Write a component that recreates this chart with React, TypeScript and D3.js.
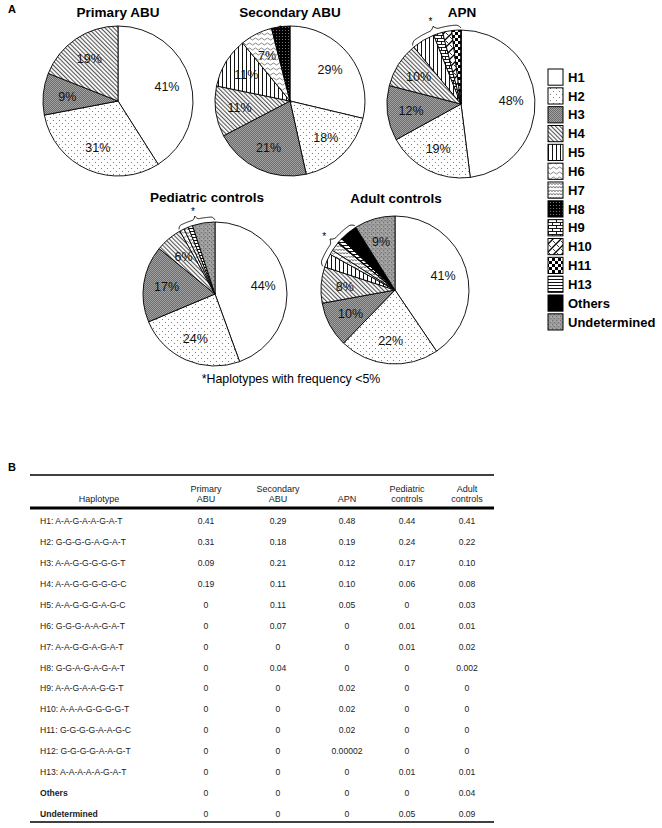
import React from "react";
import * as d3 from "d3";

const haplotypes = ["H1", "H2", "H3", "H4", "H5", "H6", "H7", "H8", "H9", "H10", "H11", "H12", "H13", "Others", "Undetermined"];
const sequences = ["A-A-G-A-A-G-A-T", "G-G-G-G-A-G-A-T", "A-A-G-G-G-G-G-T", "A-A-G-G-G-G-G-C", "A-A-G-G-G-A-G-C", "G-G-G-A-A-G-A-T", "A-A-G-G-A-G-A-T", "G-G-A-G-A-G-A-T", "A-A-G-A-A-G-G-T", "A-A-A-G-G-G-G-T", "G-G-G-G-A-A-G-C", "G-G-G-G-A-A-G-T", "A-A-A-A-A-G-A-T", "", ""];

const primaryABU = [0.41, 0.31, 0.09, 0.19, 0, 0, 0, 0, 0, 0, 0, 0, 0, 0, 0];
const secondaryABU = [0.29, 0.18, 0.21, 0.11, 0.11, 0.07, 0, 0.04, 0, 0, 0, 0, 0, 0, 0];
const apn = [0.48, 0.19, 0.12, 0.10, 0.05, 0, 0, 0, 0.02, 0.02, 0.02, 0.00002, 0, 0, 0];
const pediatricControls = [0.44, 0.24, 0.17, 0.06, 0, 0.01, 0.01, 0, 0, 0, 0, 0, 0.01, 0, 0.05];
const adultControls = [0.41, 0.22, 0.10, 0.08, 0.03, 0.01, 0.02, 0.002, 0, 0, 0, 0, 0.01, 0.04, 0.09];

const groupNames = ["Primary ABU", "Secondary ABU", "APN", "Pediatric controls", "Adult controls"];
const groupHeaders = [["Primary", "ABU"], ["Secondary", "ABU"], ["APN"], ["Pediatric", "controls"], ["Adult", "controls"]];
const legendKeys = ["H1", "H2", "H3", "H4", "H5", "H6", "H7", "H8", "H9", "H10", "H11", "H13", "Others", "Undetermined"];
const footnote = "*Haplotypes with frequency <5%";

const allValues = [primaryABU, secondaryABU, apn, pediatricControls, adultControls];

const pieLayout = [
  { cx: 118, cy: 101, r: 75, tx: 118, ty: 17, braceFrom: null, braceTo: null, star: null },
  { cx: 290, cy: 101, r: 75, tx: 290, ty: 17, braceFrom: null, braceTo: null, star: "H8" },
  { cx: 461, cy: 104, r: 74, tx: 462, ty: 17, braceFrom: "H5", braceTo: "H12", star: null },
  { cx: 215, cy: 294, r: 72, tx: 207, ty: 202, braceFrom: "H6", braceTo: "Undetermined", star: null },
  { cx: 395, cy: 290, r: 74, tx: 396, ty: 203, braceFrom: "H5", braceTo: "Others", star: null },
];

const fillFor = (k: string) => {
  if (k === "H1" || k === "H12") return "#ffffff";
  if (k === "Others") return "#000000";
  return `url(#pat-${k})`;
};

function Patterns() {
  const u = { patternUnits: "userSpaceOnUse" as const };
  return (
    <defs>
      <pattern id="pat-H2" {...u} width={6} height={6}>
        <rect width={6} height={6} fill="#fff" />
        <circle cx={1.5} cy={1.5} r={0.55} fill="#666" />
        <circle cx={4.5} cy={4.5} r={0.55} fill="#666" />
      </pattern>
      <pattern id="pat-H3" {...u} width={2} height={2}>
        <rect width={2} height={2} fill="#a2a2a2" />
        <rect width={1} height={1} fill="#6c6c6c" />
        <rect x={1} y={1} width={1} height={1} fill="#6c6c6c" />
      </pattern>
      <pattern id="pat-H4" {...u} width={3} height={3} patternTransform="rotate(-45)">
        <rect width={3} height={3} fill="#fff" />
        <rect width={1.1} height={3} fill="#555" />
      </pattern>
      <pattern id="pat-H5" {...u} width={4} height={4}>
        <rect width={4} height={4} fill="#fff" />
        <rect width={1} height={4} fill="#111" />
      </pattern>
      <pattern id="pat-H6" {...u} width={6} height={5}>
        <rect width={6} height={5} fill="#fff" />
        <path d="M0,3 Q1.5,1 3,3 T6,3" fill="none" stroke="#555" strokeWidth={0.7} />
      </pattern>
      <pattern id="pat-H7" {...u} width={6} height={3.5}>
        <rect width={6} height={3.5} fill="#fff" />
        <path d="M0,2.6 L1.5,0.9 L3,2.6 L4.5,0.9 L6,2.6" fill="none" stroke="#444" strokeWidth={0.8} />
      </pattern>
      <pattern id="pat-H8" {...u} width={3} height={3}>
        <rect width={3} height={3} fill="#000" />
        <circle cx={1.5} cy={1.5} r={0.55} fill="#888" />
      </pattern>
      <pattern id="pat-H9" {...u} width={8} height={6}>
        <rect width={8} height={6} fill="#fff" />
        <path d="M0,0.5 H8 M0,3.5 H8 M0.5,0.5 V3.5 M4.5,3.5 V6" fill="none" stroke="#000" strokeWidth={0.9} />
      </pattern>
      <pattern id="pat-H10" {...u} width={8} height={8}>
        <rect width={8} height={8} fill="#fff" />
        <path d="M0,8 L8,0 M-1,1 L1,-1 M7,9 L9,7" fill="none" stroke="#000" strokeWidth={1.3} />
        <path d="M1,1 L3.5,3.5 M4.5,4.5 L7,7" fill="none" stroke="#000" strokeWidth={0.8} />
      </pattern>
      <pattern id="pat-H11" {...u} width={6} height={6}>
        <rect width={6} height={6} fill="#fff" />
        <rect width={3} height={3} fill="#000" />
        <rect x={3} y={3} width={3} height={3} fill="#000" />
      </pattern>
      <pattern id="pat-H13" {...u} width={3} height={3}>
        <rect width={3} height={3} fill="#fff" />
        <rect width={3} height={1} fill="#111" />
      </pattern>
      <pattern id="pat-Undetermined" {...u} width={4} height={4}>
        <rect width={4} height={4} fill="#9a9a9a" />
        <rect width={1} height={1} fill="#6e6e6e" />
        <rect x={2} y={2} width={1} height={1} fill="#6e6e6e" />
        <circle cx={3} cy={1} r={0.6} fill="#d8d8d8" />
      </pattern>
    </defs>
  );
}

function bracePath(cx: number, cy: number, r: number, a0: number, a1: number) {
  const n = 80;
  const pts: [number, number][] = [];
  for (let i = 0; i <= n; i++) {
    const t = i / n;
    const uu = t <= 0.5 ? t : 1 - t;
    const e = Math.min(1, uu / 0.1);
    const rise = 1 - (1 - e) * (1 - e);
    const tp = Math.max(0, 1 - (0.5 - uu) / 0.09);
    const d = 2 + 3 * rise + 3.5 * tp * tp;
    const a = a0 + t * (a1 - a0);
    pts.push([cx + (r + d) * Math.sin(a), cy - (r + d) * Math.cos(a)]);
  }
  return d3.line()(pts) || "";
}

function PieChart({ idx }: { idx: number }) {
  const L = pieLayout[idx];
  const vals = allValues[idx];
  const data = haplotypes.map((k, i) => ({ key: k, value: vals[i] })).filter((d) => d.value > 0);
  const arcs = d3.pie<any>().sort(null).value((d: any) => d.value)(data);
  const arcGen = d3.arc<any>().innerRadius(0).outerRadius(L.r);
  const labelArc = d3.arc<any>().innerRadius(L.r * 0.68).outerRadius(L.r * 0.68);
  let brace: any = null;
  if (L.braceFrom) {
    const s = arcs.find((a: any) => a.data.key === L.braceFrom)!;
    const e = arcs.find((a: any) => a.data.key === L.braceTo)!;
    const a0 = s.startAngle, a1 = e.endAngle;
    const am = (a0 + a1) / 2;
    const rs = L.r + 16;
    brace = (
      <g>
        <path d={bracePath(L.cx, L.cy, L.r, a0, a1)} fill="none" stroke="#000" strokeWidth={0.9} />
        <text x={L.cx + rs * Math.sin(am)} y={L.cy - rs * Math.cos(am) + 5.8} textAnchor="middle" fontSize={10}>*</text>
      </g>
    );
  } else if (L.star) {
    const s = arcs.find((a: any) => a.data.key === L.star)!;
    const am = (s.startAngle + s.endAngle) / 2;
    const rs = L.r + 3;
    brace = (
      <text x={L.cx + rs * Math.sin(am)} y={L.cy - rs * Math.cos(am) + 7} textAnchor="middle" fontSize={9}>*</text>
    );
  }
  return (
    <g>
      <text x={L.tx} y={L.ty} textAnchor="middle" fontWeight="bold" fontSize={13.5}>{groupNames[idx]}</text>
      <g transform={`translate(${L.cx},${L.cy})`}>
        {arcs.map((a: any) => (
          <path key={a.data.key} d={arcGen(a) || ""} fill={fillFor(a.data.key)} stroke="#000" strokeWidth={0.9} strokeLinejoin="round" />
        ))}
        {arcs.filter((a: any) => a.data.value >= 0.055).map((a: any) => {
          const [x, y] = labelArc.centroid(a);
          return (
            <text key={"l" + a.data.key} x={x} y={y} dy="0.35em" textAnchor="middle" fontSize={12.5} fill="#111">
              {Math.round(a.data.value * 100) + "%"}
            </text>
          );
        })}
      </g>
      {brace}
    </g>
  );
}

function Legend() {
  const y = d3.scaleBand().domain(legendKeys).range([69, 330]).paddingInner(0.14);
  return (
    <g>
      {legendKeys.map((k) => (
        <g key={k}>
          <rect x={548} y={y(k)!} width={15} height={y.bandwidth()} fill={fillFor(k)} stroke="#000" strokeWidth={1} />
          <text x={568} y={y(k)! + y.bandwidth() / 2} dy="0.36em" fontWeight="bold" fontSize={13}>{k}</text>
        </g>
      ))}
    </g>
  );
}

const fmt = (v: number) => (v === 0 ? "0" : v >= 0.01 ? v.toFixed(2) : String(v));

function Table() {
  const colPos = (i: number) => [206, 278, 347, 407, 467][i];
  const rowY = d3.scaleLinear().domain([0, haplotypes.length - 1]).range([521, 814]);
  return (
    <g fontSize={8.6} fill="#222">
      <line x1={30} x2={494} y1={475} y2={475} stroke="#000" strokeWidth={1.3} />
      <line x1={30} x2={494} y1={508} y2={508} stroke="#000" strokeWidth={3} />
      <line x1={30} x2={494} y1={822} y2={822} stroke="#000" strokeWidth={1.3} />
      <text x={99} y={502} textAnchor="middle" fontSize={9}>Haplotype</text>
      {groupHeaders.map((h, i) => (
        <text key={i} x={colPos(i)} textAnchor="middle" fontSize={9}>
          {h.map((line, j) => (
            <tspan key={j} x={colPos(i)} y={502 - (h.length - 1 - j) * 10.5}>{line}</tspan>
          ))}
        </text>
      ))}
      {haplotypes.map((k, r) => (
        <g key={k}>
          <text x={40} y={rowY(r)} dy="0.35em" fontWeight={sequences[r] ? "normal" : "bold"}>
            {sequences[r] ? `${k}: ${sequences[r]}` : k}
          </text>
          {allValues.map((vals, c) => (
            <text key={c} x={colPos(c)} y={rowY(r)} dy="0.35em" textAnchor="middle">{fmt(vals[r])}</text>
          ))}
        </g>
      ))}
    </g>
  );
}

export default function App() {
  return (
    <svg width={662} height={828} style={{ position: "absolute", left: 0, top: 0, background: "#fff" }}
      fontFamily="'Liberation Sans', Arial, sans-serif">
      <Patterns />
      <rect width={662} height={828} fill="#fff" />
      <text x={8} y={13} fontWeight="bold" fontSize={11}>A</text>
      {pieLayout.map((_, i) => <PieChart key={i} idx={i} />)}
      <Legend />
      <text x={291} y={383} textAnchor="middle" fontSize={12.4}>{footnote}</text>
      <text x={8} y={471} fontWeight="bold" fontSize={11}>B</text>
      <Table />
    </svg>
  );
}
